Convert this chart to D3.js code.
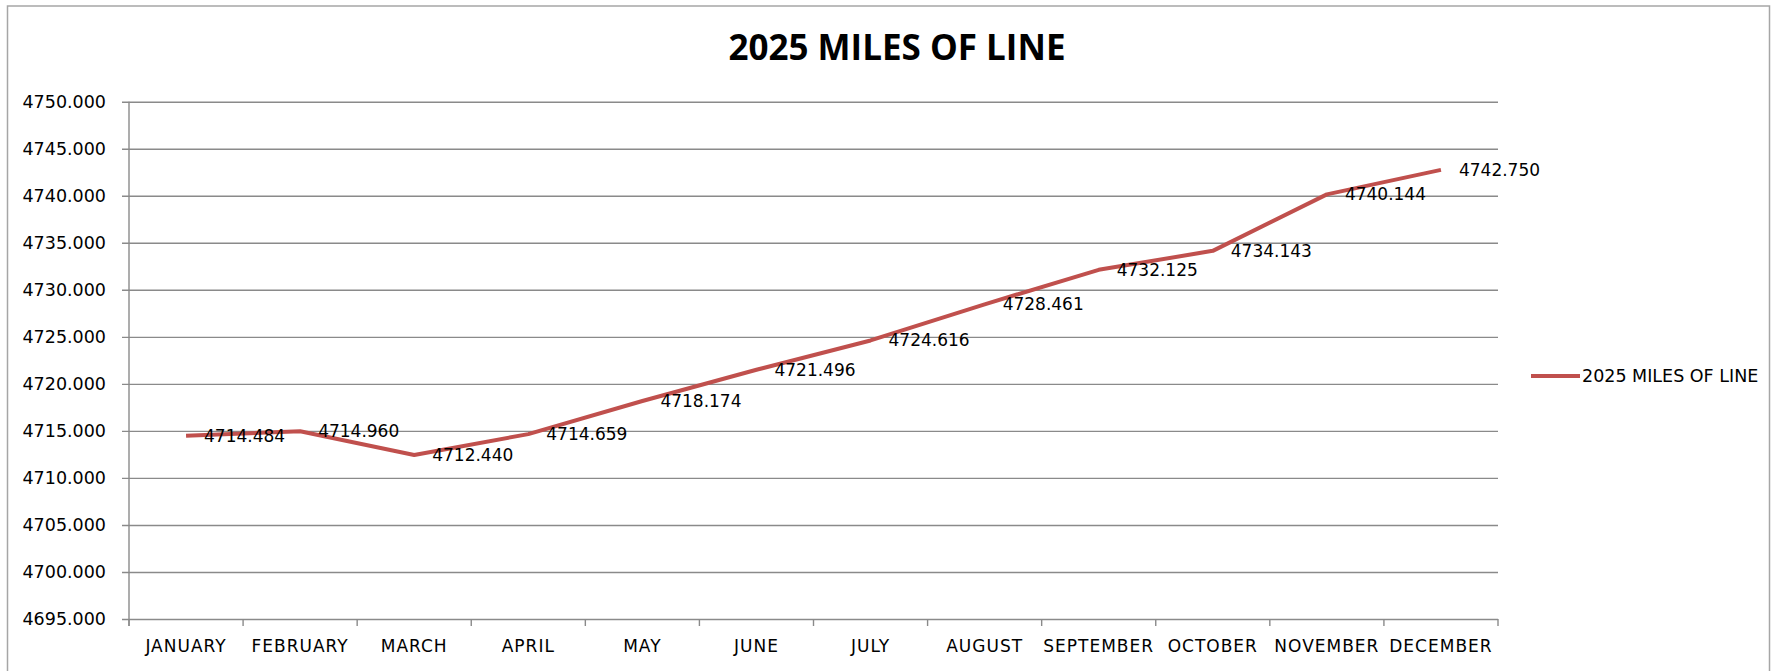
<!DOCTYPE html>
<html>
<head>
<meta charset="utf-8">
<title>2025 Miles of Line</title>
<script src="https://cdn.jsdelivr.net/npm/d3@7"></script>
<style>
    body { margin: 0; background: #fff; }
    svg text { font-family: "DejaVu Sans", Verdana, sans-serif; fill: #000; }
</style>
</head>
<body>
<div id="chart"></div>
<script>
/*globals d3 */

var months = ["JANUARY", "FEBRUARY", "MARCH", "APRIL", "MAY", "JUNE", "JULY",
    "AUGUST", "SEPTEMBER", "OCTOBER", "NOVEMBER", "DECEMBER"];
var miles = [4714.484, 4714.960, 4712.440, 4714.659, 4718.174, 4721.496,
    4724.616, 4728.461, 4732.125, 4734.143, 4740.144, 4742.750];
var yTicks = [4695, 4700, 4705, 4710, 4715, 4720, 4725, 4730, 4735, 4740, 4745, 4750];
var seriesName = "2025 MILES OF LINE";
var chartTitle = "2025 MILES OF LINE";

var width = 1773,
    height = 671,
    plot = {left: 129, right: 1498, top: 101.7, bottom: 619},
    red = "#c0504d",
    grid = "#8a8a8a";

var svg = d3.select("#chart")
    .append("svg")
    .attr("width", width)
    .attr("height", height);

// Outer chart frame.
svg.append("rect")
    .attr("x", 7.5)
    .attr("y", 6)
    .attr("width", 1762)
    .attr("height", 700)
    .style("fill", "none")
    .style("stroke", "#a6a6a6")
    .style("stroke-width", 1.5);

svg.append("text")
    .attr("x", 897)
    .attr("y", 60)
    .attr("text-anchor", "middle")
    .style("font-family", "'Open Sans', sans-serif")
    .style("font-weight", "bold")
    .style("font-size", "35px")
    .text(chartTitle);

var x = d3.scaleBand()
    .domain(months)
    .range([plot.left, plot.right]);

var y = d3.scaleLinear()
    .domain([4695, 4750])
    .range([plot.bottom, plot.top]);

// Horizontal gridlines with the y labels.
var yAxis = d3.axisLeft(y)
    .tickValues(yTicks)
    .tickSize(-(plot.right - plot.left) - 7)
    .tickPadding(16)
    .tickFormat(d3.format(".3f"));

svg.append("g")
    .attr("transform", "translate(" + (plot.left - 7) + ",0)")
    .call(yAxis)
    .call(function (g) {
        g.select(".domain").remove();
        g.selectAll(".tick line")
            .attr("x1", 0)
            .attr("x2", plot.right - plot.left + 7)
            .style("stroke", grid)
            .style("stroke-width", 1.4);
        g.selectAll(".tick text")
            .attr("x", -16)
            .style("font-size", "17.5px")
            .style("font-family", "'DejaVu Sans', sans-serif");
    });

// Vertical axis line.
svg.append("line")
    .attr("x1", plot.left)
    .attr("x2", plot.left)
    .attr("y1", plot.top)
    .attr("y2", plot.bottom + 7)
    .style("stroke", grid)
    .style("stroke-width", 1.4);

// Category axis: ticks at the band edges, labels centred in bands.
var edges = months.map(function (m) {
    return x(m);
}).concat([plot.right]);

svg.append("g")
    .selectAll("line")
    .data(edges)
    .enter()
    .append("line")
    .attr("x1", function (d) { return d; })
    .attr("x2", function (d) { return d; })
    .attr("y1", plot.bottom)
    .attr("y2", plot.bottom + 7)
    .style("stroke", grid)
    .style("stroke-width", 1.4);

svg.append("g")
    .selectAll("text")
    .data(months)
    .enter()
    .append("text")
    .attr("x", function (d) { return x(d) + x.bandwidth() / 2; })
    .attr("y", plot.bottom + 33)
    .attr("text-anchor", "middle")
    .style("font-size", "17px")
    .style("letter-spacing", "1px")
    .text(function (d) { return d; });

var line = d3.line()
    .x(function (d, i) { return x(months[i]) + x.bandwidth() / 2; })
    .y(function (d) { return y(d); });

svg.append("path")
    .datum(miles)
    .attr("d", line)
    .style("fill", "none")
    .style("stroke", red)
    .style("stroke-width", 4)
    .style("stroke-linejoin", "round");

// Data labels, to the right of each point.
svg.append("g")
    .selectAll("text")
    .data(miles)
    .enter()
    .append("text")
    .attr("x", function (d, i) { return x(months[i]) + x.bandwidth() / 2 + 18; })
    .attr("y", function (d) { return y(d); })
    .attr("dy", "0.35em")
    .style("font-size", "17px")
    .text(function (d) { return d3.format(".3f")(d); });

// Legend.
var legend = svg.append("g")
    .attr("transform", "translate(1531,376)");

legend.append("line")
    .attr("x1", 0)
    .attr("x2", 49)
    .style("stroke", red)
    .style("stroke-width", 4);

legend.append("text")
    .attr("x", 51)
    .attr("dy", "0.35em")
    .style("font-size", "17.5px")
    .text(seriesName);
</script>
</body>
</html>
